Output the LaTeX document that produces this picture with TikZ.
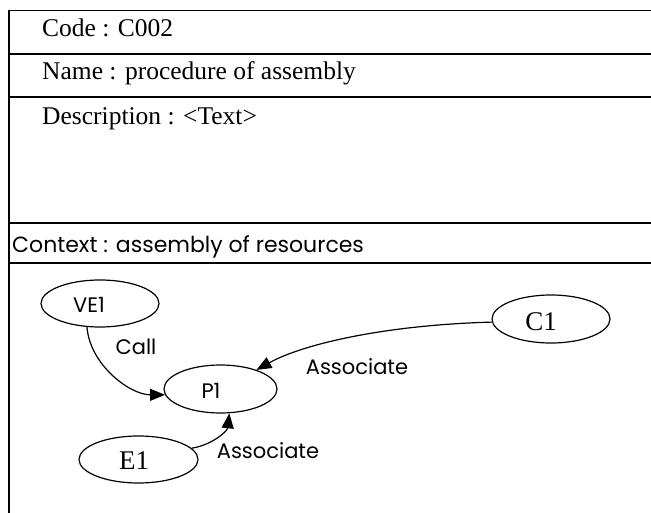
\documentclass[tikz,border=0pt]{standalone}
\usepackage{fontspec}
\setmainfont{Liberation Serif}
\newfontfamily\comic{Poppins}
\usetikzlibrary{arrows.meta,shapes.geometric}
\begin{document}
\begin{tikzpicture}[x=1pt,y=-1pt,
  tabline/.style={line width=1.8pt},
  serif/.style={font=\fontsize{25.5}{30}\selectfont, anchor=base west, inner sep=0pt},
  ctx/.style={font=\comic\fontsize{22}{26}\selectfont, anchor=base west, inner sep=0pt},
  oval/.style={ellipse, draw, line width=1.2pt, minimum width=118pt, minimum height=47pt, inner sep=0pt},
  lab/.style={font=\comic\fontsize{21}{24}\selectfont, inner sep=0pt},
  big/.style={font=\fontsize{27}{30}\selectfont, inner sep=0pt},
  conn/.style={line width=1.2pt, -{Triangle[length=15pt,width=12pt]}}
]
\useasboundingbox (0,0) rectangle (651,513);
% table frame
\coordinate (tl) at (9,10.5);
\coordinate (bl) at (9,513);
\draw[tabline] (9,10.5) -- (651,10.5);
\draw[tabline] (9,54) -- (651,54);
\draw[line width=2.6pt] (9,97) -- (651,97);
\draw[tabline] (9,223) -- (651,223);
\draw[tabline] (9,263) -- (651,263);
\draw[line width=1.5pt] (tl) -- (bl);
% texts
\node[serif] (code) at (42,37) {Code : C002};
\node[serif] (name) at (42,80) {Name : procedure of assembly};
\node[serif] (desc) at (42,125) {Description : <Text>};
\node[ctx] (context) at (12,253) {Context : assembly of resources};
% nodes
\node[oval] (ve1) at (100,303.5) {};
\node[lab] (ve1t) at (89,305) {VE1};
\node[oval, minimum width=113pt, minimum height=48pt] (p1) at (220.5,389) {};
\node[lab] (p1t) at (211,391) {P1};
\node[oval, minimum width=119pt] (e1) at (138.5,459.5) {};
\node[big] (e1t) at (134,461) {E1};
\node[oval, minimum height=48pt] (c1) at (551,319) {};
\node[big] (c1t) at (541,322) {C1};
% connectors
\draw[conn] (ve1.241) .. controls +(3,38) and +(-35,0) .. (p1.186);
\draw[conn] (c1.183) .. controls +(-110,3) and +(45,-25) .. (p1.28);
\draw[conn] (e1.12) .. controls +(20,-3) and +(-2,18) .. (p1.290);
% labels
\node[lab] (call) at (136,347) {Call};
\node[lab] (assoc1) at (357,367) {Associate};
\node[lab] (assoc2) at (268,451) {Associate};
\end{tikzpicture}
\end{document}
